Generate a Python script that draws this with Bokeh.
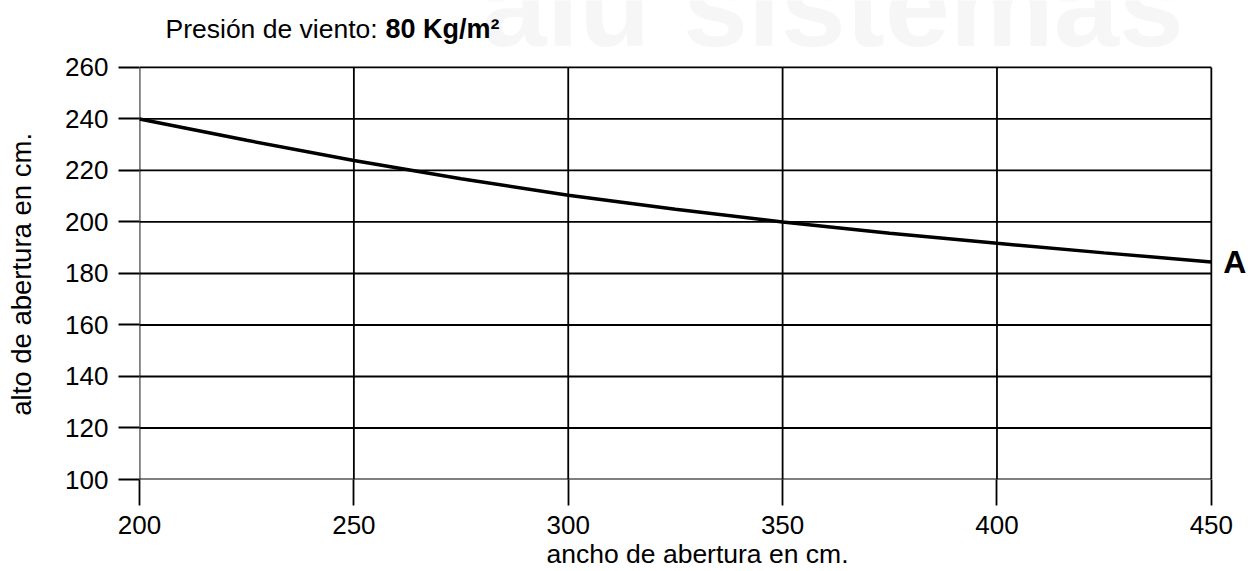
from bokeh.plotting import figure
from bokeh.models import Range1d, FixedTicker, Label
from bokeh.embed import file_html
from bokeh.resources import INLINE

# ---- data ----
ancho = [200, 225, 250, 275, 300, 325, 350, 375, 400, 425, 450]
alto = [240.0, 231.7, 223.9, 216.8, 210.4, 204.9, 200.0, 195.6, 191.7, 188.0, 184.5]
x_ticks = [200, 250, 300, 350, 400, 450]
y_ticks = [100, 120, 140, 160, 180, 200, 220, 240, 260]
serie_nombre = "A"
titulo_regular = "Presión de viento: "
titulo_bold = "80 Kg/m²"
x_label = "ancho de abertura en cm."
y_label = "alto de abertura en cm."
marca_agua = "alu sistemas"

FONT = "Liberation Sans"

# frame extends to the top/right edges so that the title, watermark and
# series label can live inside it; the chart grid is bounded by the tick lists
p = figure(width=1255, height=571, output_backend="svg", toolbar_location=None,
           x_range=Range1d(x_ticks[0], 460.3), y_range=Range1d(y_ticks[0], 286.0),
           min_border_left=139, min_border_right=0, min_border_top=0, min_border_bottom=92)
p.background_fill_color = "white"
p.border_fill_color = "white"
p.outline_line_color = None
p.xgrid.visible = False
p.ygrid.visible = False

for ax, ticks, tick_out, standoff in ((p.xaxis, x_ticks, 26, 10), (p.yaxis, y_ticks, 21, 10)):
    ax.ticker = FixedTicker(ticks=ticks)
    ax.bounds = (ticks[0], ticks[-1])
    ax.axis_line_color = None
    ax.major_tick_in = 0
    ax.major_tick_out = tick_out
    ax.major_tick_line_color = "black"
    ax.major_tick_line_width = 1.8
    ax.minor_tick_line_color = None
    ax.major_label_text_font = FONT
    ax.major_label_text_font_size = "26px"
    ax.major_label_text_color = "black"
    ax.major_label_standoff = standoff
    ax.axis_label_text_font = FONT
    ax.axis_label_text_font_style = "normal"
    ax.axis_label_text_color = "black"

# the frame reaches the top edge, so pad the label end with no-break spaces
# to keep it centred on the 100-260 chart area
p.yaxis.axis_label = y_label + "\u00a0" * 9
p.yaxis.axis_label_text_font_size = "27.5px"
p.yaxis.axis_label_standoff = 25
p.xaxis.axis_label = x_label
p.xaxis.axis_label_text_font_size = "26.5px"
p.xaxis.axis_label_standoff = 2

# grid (bounded to the chart area)
nx, ny = len(x_ticks), len(y_ticks)
p.segment(x0=x_ticks, y0=[y_ticks[0]] * nx, x1=x_ticks, y1=[y_ticks[-1]] * nx,
          line_color="black", line_width=1.8)
p.segment(x0=[x_ticks[0]] * ny, y0=y_ticks, x1=[x_ticks[-1]] * ny, y1=y_ticks,
          line_color="black", line_width=1.8)

p.line(ancho, alto, line_color="black", line_width=3.5)

# series label at end of curve
p.add_layout(Label(x=ancho[-1], y=alto[-1], x_offset=12, text=serie_nombre,
                   text_font=FONT, text_font_size="32px", text_font_style="bold",
                   text_baseline="middle", text_align="left", text_color="black"))

# watermark
p.add_layout(Label(x=342, y=474, x_units="screen", y_units="screen", text=marca_agua,
                   text_font=FONT, text_font_size="117px", text_font_style="bold",
                   text_color="#f6f6f6", text_baseline="alphabetic", level="underlay"))

# title in two parts
p.add_layout(Label(x=26, y=451, x_units="screen", y_units="screen", text=titulo_regular,
                   text_font=FONT, text_font_size="26.5px", text_baseline="alphabetic",
                   text_color="black"))
p.add_layout(Label(x=246, y=451, x_units="screen", y_units="screen", text=titulo_bold,
                   text_font=FONT, text_font_size="27px", text_font_style="bold",
                   text_baseline="alphabetic", text_color="black"))

open("out.html", "w").write(file_html(p, INLINE))
